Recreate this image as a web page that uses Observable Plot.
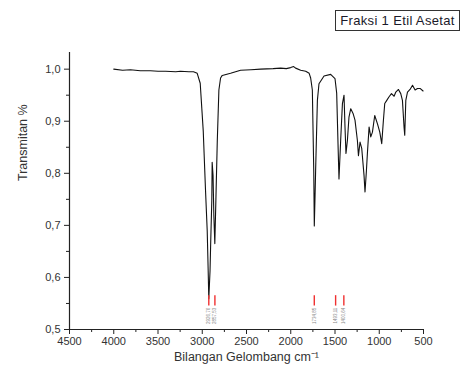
<!DOCTYPE html>
<html>
<head>
<meta charset="utf-8">
<script src="https://cdn.jsdelivr.net/npm/d3@7"></script>
<script src="https://cdn.jsdelivr.net/npm/@observablehq/plot@0.6"></script>
<style>
  html, body { margin: 0; padding: 0; background: #fff; }
  #wrap { position: relative; width: 462px; height: 374px; }
  #title {
    position: absolute; left: 335px; top: 10px; width: 123px; height: 19px;
    border: 1px solid #333; font-family: "Liberation Sans", Arial, sans-serif;
    font-size: 13px; letter-spacing: 0.35px; line-height: 19px; color: #1a1a2a; text-align: center; box-sizing: content-box;
    white-space: nowrap;
  }
</style>
</head>
<body>
<div id="wrap"><div id="title">Fraksi 1 Etil Asetat</div></div>
<script>
// Spectrum (wavenumber cm^-1, transmittance)
const wavenumber = [4000, 3900, 3811, 3700, 3585, 3500, 3415, 3300, 3246, 3150, 3099, 3057, 3023, 2989, 2963, 2944, 2933, 2926, 2912, 2904, 2892, 2888, 2878, 2869, 2858, 2846, 2830, 2812, 2793, 2774, 2680, 2567, 2450, 2340, 2200, 2114, 2050, 2001, 1967, 1945, 1888, 1831, 1792, 1775, 1756, 1740, 1734, 1725, 1719, 1699, 1681, 1624, 1549, 1500, 1481, 1466, 1455, 1436, 1416, 1398, 1387, 1376, 1360, 1342, 1322, 1296, 1274, 1247, 1235, 1217, 1198, 1183, 1172, 1161, 1145, 1134, 1115, 1096, 1077, 1051, 1020, 994, 972, 953, 938, 915, 889, 862, 832, 813, 783, 757, 738, 720, 712, 700, 681, 652, 624, 595, 568, 539, 505];
const transmittance = [1.000, 0.998, 0.999, 0.997, 0.997, 0.996, 0.996, 0.995, 0.996, 0.995, 0.995, 0.992, 0.973, 0.882, 0.767, 0.690, 0.613, 0.559, 0.613, 0.671, 0.748, 0.821, 0.796, 0.719, 0.665, 0.748, 0.863, 0.960, 0.983, 0.988, 0.992, 0.998, 0.999, 1.000, 1.001, 1.002, 1.001, 1.003, 1.005, 1.002, 0.998, 0.996, 0.992, 0.983, 0.960, 0.805, 0.699, 0.760, 0.805, 0.940, 0.972, 0.987, 0.990, 0.982, 0.954, 0.857, 0.789, 0.863, 0.934, 0.950, 0.889, 0.838, 0.863, 0.908, 0.924, 0.915, 0.902, 0.863, 0.834, 0.860, 0.848, 0.818, 0.796, 0.764, 0.805, 0.838, 0.889, 0.870, 0.879, 0.911, 0.895, 0.879, 0.857, 0.902, 0.934, 0.940, 0.947, 0.953, 0.948, 0.956, 0.961, 0.953, 0.940, 0.889, 0.873, 0.940, 0.956, 0.961, 0.969, 0.960, 0.963, 0.963, 0.958];

// Peak markers
const peakPositions = [2926, 2857, 1734, 1493, 1400];
const peakLabels = ["2926,76", "2857,53", "1734,85", "1493,11", "1400,64"];

// Tick values
const xMajorTicks = [4500, 4000, 3500, 3000, 2500, 2000, 1500, 1000, 500];
const xMinorTicks = [4250, 3750, 3250, 2750, 2250, 1750, 1250, 750];
const yMajorTicks = [0.5, 0.6, 0.7, 0.8, 0.9, 1.0];
const yMinorTicks = [0.55, 0.65, 0.75, 0.85, 0.95];

const xLabel = "Bilangan Gelombang cm⁻¹";
const yLabel = "Transmitan %";

const spectrum = wavenumber.map((w, i) => ({w, t: transmittance[i]}));
const peaks = peakPositions.map((w, i) => ({w, label: peakLabels[i]}));

const fmtY = d => d.toFixed(1).replace(".", ",");

const chart = Plot.plot({
  width: 462,
  height: 374,
  marginLeft: 69,
  marginRight: 39,
  marginTop: 52,
  marginBottom: 45,
  x: {domain: [4500, 500]},
  y: {domain: [0.5, 1.032]},
  style: {fontFamily: "'Liberation Sans', Arial, sans-serif", fontSize: "11px", color: "#333", background: "transparent"},
  marks: [
    Plot.axisY(yMajorTicks, {tickSize: 5, tickPadding: 4, tickFormat: fmtY, label: null, fontSize: 11, stroke: "#222", fill: "#333"}),
    Plot.axisY(yMinorTicks, {tickSize: 3, tickFormat: () => "", label: null, stroke: "#222"}),
    Plot.axisX(xMajorTicks, {tickSize: 5, tickPadding: 3, tickFormat: d => String(d), label: null, fontSize: 11, stroke: "#222", fill: "#333"}),
    Plot.axisX(xMinorTicks, {tickSize: 3, tickFormat: () => "", label: null, stroke: "#222"}),
    Plot.ruleY([0.5], {x1: 4500, x2: 500, stroke: "#222", strokeWidth: 1.2}),
    Plot.ruleX([4500], {y1: 0.5, y2: 1.032, stroke: "#222", strokeWidth: 1.2}),
    Plot.line(spectrum, {x: "w", y: "t", stroke: "#111", strokeWidth: 1.1, curve: "linear"}),
    Plot.ruleX(peaks, {x: "w", y1: 0.545, y2: 0.565, stroke: "#f03030", strokeWidth: 1.4}),
    Plot.text(peaks, {x: "w", y: 0.542, text: "label", rotate: -90, textAnchor: "end", fontSize: 4.5, fill: "#888"}),
    Plot.text([xLabel], {frameAnchor: "bottom", dy: 31, fontSize: 12.5, fill: "#333", text: d => d}),
    Plot.text([yLabel], {frameAnchor: "left", dx: -47, dy: -10, rotate: -90, fontSize: 12.5, fill: "#333", text: d => d})
  ]
});
document.getElementById("wrap").prepend(chart);
chart.style.position = "absolute";
chart.style.left = "0";
chart.style.top = "0";
</script>
</body>
</html>
